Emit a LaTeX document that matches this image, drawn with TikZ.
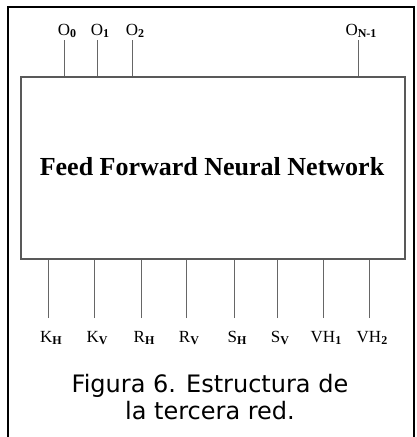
\documentclass[tikz,border=0pt]{standalone}
\usepackage{fontspec}
\setmainfont{Liberation Serif}
\newfontfamily\capfont{DejaVu Sans}
\newcommand{\lsub}[1]{\raisebox{-0.35ex}{\fontsize{12}{12}\selectfont\bfseries #1}}
\begin{document}
\begin{tikzpicture}[x=1pt,y=-1pt,
  wire/.style={draw=black!60,line width=0.9pt},
  lbl/.style={font=\fontsize{17}{17}\selectfont,inner sep=0pt},
  mainbox/.style={draw=black!65,line width=1.1pt}]
\useasboundingbox (0,0) rectangle (416,437);
\draw[line width=1.2pt] (8,437) -- (8,7) -- (414,7) -- (414,437);
\node[mainbox,minimum width=384pt,minimum height=182pt,inner sep=0pt] (nn) at (213,168) {};
\node[font=\bfseries\fontsize{26}{26}\selectfont] (t) at (212,167) {Feed Forward Neural Network};
% outputs
\foreach \n/\x/\t in {o0/64/{O\lsub{0}},o1/97/{O\lsub{1}},o2/132/{O\lsub{2}},oN/358/{O\lsub{N-1}}}{
  \coordinate (\n) at (\x,40);
  \node[lbl,anchor=base] (\n l) at (\x+3,35) {\t};
  \draw[wire] (\n) -- (\n |- nn.north);
}
% inputs
\foreach \n/\x/\t in {kh/48/{K\lsub{H}},kv/94/{K\lsub{V}},rh/141/{R\lsub{H}},rv/186/{R\lsub{V}},sh/234/{S\lsub{H}},sv/277/{S\lsub{V}},vh1/323/{VH\lsub{1}},vh2/369/{VH\lsub{2}}}{
  \coordinate (\n) at (\x,318);
  \node[lbl,anchor=base] (\n l) at (\x+3,342) {\t};
  \draw[wire] (\n) -- (\n |- nn.south);
}
\node[font=\capfont\fontsize{24}{27}\selectfont,align=center] (cap) at (210,397) {Figura 6. Estructura de\\la tercera red.};
\end{tikzpicture}
\end{document}
